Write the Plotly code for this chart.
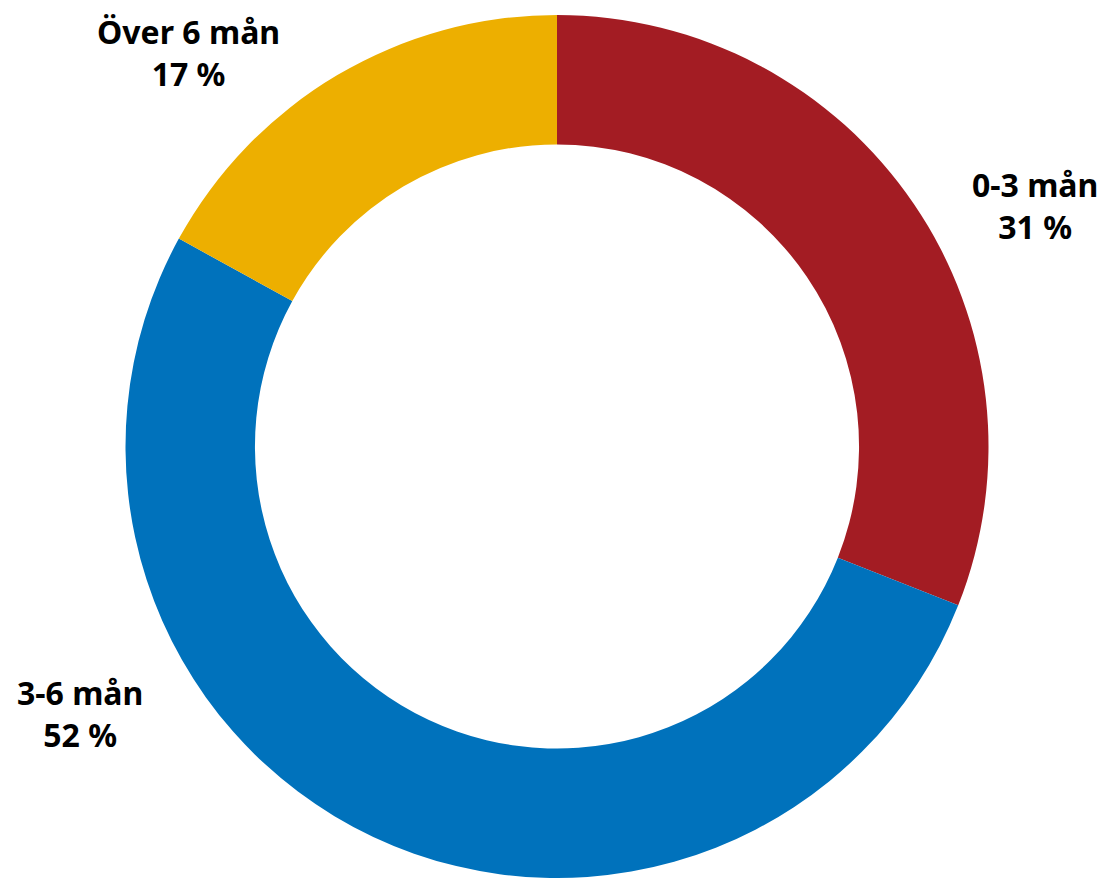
import plotly.graph_objects as go

categories = ["0-3 mån", "3-6 mån", "Över 6 mån"]
values = [31, 52, 17]
colors = ["#A31C23", "#0072BC", "#EDAF00"]

# page has an 8px body margin; figure sized to fit the window
OFF = 8
W, H = 1107 - OFF, 878 - OFF

fig = go.Figure(go.Pie(
    labels=categories,
    values=values,
    hole=0.70,
    sort=False,
    direction="clockwise",
    rotation=0,
    marker=dict(colors=colors, line=dict(width=0)),
    textinfo="none",
    hoverinfo="label+percent",
    domain=dict(x=[0, 2 * (557 - OFF) / W], y=[0, 1 - (15 - OFF) / H]),
    showlegend=False,
))

# label block centres (page pixels)
label_pos = {
    "0-3 mån": (1035, 205),
    "3-6 mån": (80, 713),
    "Över 6 mån": (188, 52),
}
font = dict(family="Noto Sans, Open Sans, DejaVu Sans", size=32, color="#000000")
annotations = []
for cat, val in zip(categories, values):
    cx, cy = label_pos[cat]
    annotations.append(dict(x=(cx - OFF) / W, y=1 - (cy - OFF) / H, xref="paper", yref="paper",
                            text=f"<b>{cat}</b><br><b>{val} %</b>", showarrow=False, font=font,
                            xanchor="center", yanchor="middle", align="center"))

fig.update_layout(
    width=W, height=H,
    margin=dict(l=0, r=0, t=0, b=0),
    paper_bgcolor="white",
    plot_bgcolor="white",
    annotations=annotations,
)

fig.write_html("out.html")
